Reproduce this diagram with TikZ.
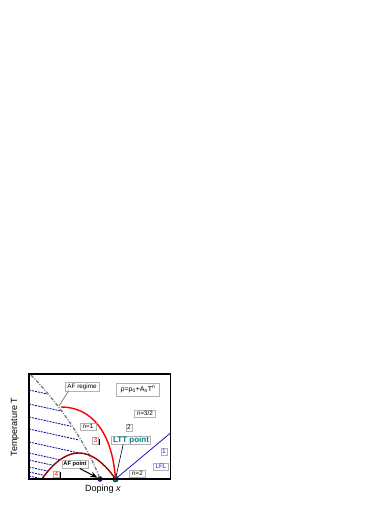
\documentclass[tikz,border=0pt]{standalone}
\usepackage{fontspec}
\setmainfont{Liberation Sans}
\usepackage{tikz}
\usetikzlibrary{arrows.meta,shadows,calc}
\definecolor{lttteal}{RGB}{0,128,128}
\definecolor{domered}{RGB}{150,0,0}
\definecolor{afviolet}{RGB}{110,0,210}
\definecolor{fluidblue}{RGB}{20,20,210}
\definecolor{stripeblue}{RGB}{0,0,150}

\begin{document}
\begin{tikzpicture}[>=Stealth, x=1pt, y=1pt,
    labelbox/.style={draw=gray!60, fill=white, inner xsep=2.5pt, inner ysep=1.3pt,
        font=\fontsize{6.3}{7}\selectfont,
        drop shadow={shadow xshift=0.9pt, shadow yshift=-0.9pt, fill=gray!60, opacity=1}},
    regionnum/.style={draw=gray!60, fill=white, inner sep=1pt,
        font=\fontsize{6.5}{7}\selectfont,
        drop shadow={shadow xshift=1.5pt, shadow yshift=-1.5pt, fill=black, opacity=1}},
    stripe/.style={stripeblue, line width=0.8pt, dash pattern=on 2pt off 1pt}]

\useasboundingbox (-29,-26) rectangle (361,479);

% AF stripes
\foreach \ystart/\xend in {89/18, 75/33.7, 62/41.9, 50/49.9, 37/50, 26/31, 19/24.5, 12/19, 7/15.6, 3/13.3}
    \draw[stripe] (0,\ystart) -- (\xend,{\ystart-0.22*\xend});

% points on the doping axis
\node[circle, draw=black, fill=afviolet, inner sep=0pt, minimum size=5pt] (afpt) at (71,0) {};
\node[circle, draw=black, fill=lttteal, inner sep=0pt, minimum size=6pt] (lttpt) at (86.5,0) {};
\coordinate (afonset) at (30,73);

% curves
\draw[gray, line width=1.4pt, dash pattern=on 3.5pt off 1.5pt on 1pt off 1.5pt]
    (2,104) .. controls (35,70) and (60,30) .. (afpt.center);
\draw[domered, line width=1.4pt] (13,0) parabola bend (49.75,26) (lttpt.center);
\draw[red, line width=1.4pt] (32,72) .. controls (61,72) and (83,49) .. (lttpt.center);
\draw[fluidblue, line width=0.8pt] (lttpt.center) -- (141.5,46);

% frame
\draw[line width=1.2pt] (0,0) rectangle (141.5,105);

% labels
\node[labelbox] (afregime) at (53,92.5) {AF regime};
\node[labelbox, font=\fontsize{7}{8}\selectfont, inner xsep=4pt, inner ysep=3pt] (rhobox) at (109,89.5)
    {ρ=ρ\textsubscript{0}+A\textsubscript{n}T\textsuperscript{n}};
\node[labelbox] (nthree) at (116,65.5) {n=3/2};
\node[labelbox] (none) at (59,52.5) {n=1};
\node[labelbox] (ntwo) at (108.5,5.5) {n=2};
\node[labelbox, text=fluidblue, inner xsep=2pt] (lfl) at (132,12.5) {LFL};
\node[labelbox, font=\fontsize{5.7}{6}\selectfont\bfseries, inner xsep=1.5pt] (afbox) at (46,14.5) {AF point};
\node[labelbox, text=lttteal, font=\fontsize{8}{9}\selectfont\bfseries, inner xsep=1.5pt, inner ysep=0.5pt]
    (lttbox) at (102,39) {LTT point};

\node[regionnum, text=fluidblue] (rone) at (135,27.5) {1};
\node[regionnum] (rtwo) at (100,51.5) {2};
\node[regionnum, text=red] (rthree) at (66.5,38.5) {3};
\node[regionnum, text=red] (rfour) at (27.5,5) {4};

% connectors
\draw[gray, line width=0.8pt] ($(afregime.south west)!0.11!(afregime.south east)$) -- (afonset);
\draw[line width=0.6pt] ($(lttbox.south west)!0.3!(lttbox.south east)$) -- (lttpt);
\draw[->, line width=1pt] ($(afbox.south west)!0.69!(afbox.south east)$) -- (afpt);

% axes
\node[font=\fontsize{9}{10}\selectfont, rotate=90] (tlabel) at (-14,52) {Temperature T};
\node[font=\fontsize{9}{10}\selectfont] (xlabel) at (74,-10) {Doping \textit{x}};

\end{tikzpicture}
\end{document}
